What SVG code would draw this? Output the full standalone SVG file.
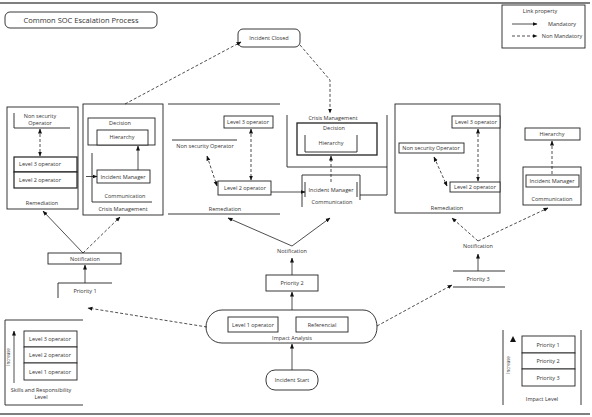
<svg xmlns="http://www.w3.org/2000/svg" width="592" height="417" viewBox="0 0 592 417">
<defs>
<marker id="ah" viewBox="0 0 10 10" refX="9" refY="5" markerWidth="5" markerHeight="5" orient="auto-start-reverse" markerUnits="userSpaceOnUse">
<path d="M0,1 L10,5 L0,9 z" fill="#111"/>
</marker>
</defs>
<style>
text{font-family:"Open Sans","Liberation Sans",sans-serif;font-size:5.5px;fill:#333;text-anchor:middle}
.b{fill:#fff;stroke:#222;stroke-width:0.9}
.l{fill:none;stroke:#222;stroke-width:0.9}
.s{fill:none;stroke:#222;stroke-width:0.8;marker-end:url(#ah)}
.d{fill:none;stroke:#222;stroke-width:0.8;stroke-dasharray:3,2;marker-end:url(#ah)}
.dd{fill:none;stroke:#222;stroke-width:0.8;stroke-dasharray:3,2;marker-end:url(#ah);marker-start:url(#ah)}
.fr{fill:none;stroke:#555;stroke-width:1.4}
.rot{font-size:4.5px;fill:#444}
</style>
<rect width="592" height="417" fill="#fff"/>
<line class="fr" x1="0" y1="3" x2="590" y2="3"/>
<line class="fr" x1="0" y1="414" x2="590" y2="414"/>

<g id="title">
<rect class="b" x="5" y="12" width="152" height="16" rx="5"/>
<text x="81" y="22.5" style="font-size:7.5px">Common SOC Escalation Process</text>
</g>

<g id="legend-link">
<rect class="b" x="502" y="5" width="83" height="43"/>
<text x="540" y="13">Link property</text>
<line class="s" x1="512" y1="24" x2="537" y2="24"/>
<text x="562" y="26">Mandatory</text>
<line class="d" x1="512" y1="36" x2="537" y2="36"/>
<text x="562" y="38">Non Mandatory</text>
</g>

<g id="incident-closed">
<rect class="b" x="238" y="29" width="62" height="18" rx="5"/>
<text x="269" y="40">Incident Closed</text>
</g>

<g id="remediation-1">
<rect class="b" x="7" y="107" width="71" height="102"/>
<path class="l" d="M14,113 V128 H70"/>
<text x="40" y="118">Non security</text>
<text x="40" y="125">Operator</text>
<rect class="b" x="14" y="157" width="63" height="15" style="stroke-width:1.2"/>
<text x="40" y="166">Level 3 operator</text>
<rect class="b" x="14" y="172" width="63" height="16" style="stroke-width:1.2"/>
<text x="40" y="182">Level 2 operator</text>
<text x="42" y="205">Remediation</text>
</g>

<g id="crisis-1">
<rect class="b" x="83" y="104" width="80" height="111"/>
<rect class="b" x="88" y="118" width="67" height="27"/>
<text x="120" y="125">Decision</text>
<rect class="b" x="97" y="130" width="51" height="15"/>
<text x="122" y="139">Hierarchy</text>
<path class="l" d="M92,153 V202 H152"/>
<rect class="b" x="97" y="170" width="53" height="13"/>
<text x="123" y="178.5">Incident Manager</text>
<text x="125" y="198">Communication</text>
<text x="123" y="211">Crisis Management</text>
</g>

<g id="remediation-2">
<line class="l" x1="168" y1="104" x2="280" y2="104"/>
<rect class="b" x="224" y="116" width="49" height="12"/>
<text x="248" y="123.5">Level 3 operator</text>
<line class="l" x1="172" y1="140" x2="237" y2="140"/>
<text x="205" y="148">Non security Operator</text>
<rect class="b" x="218" y="181" width="53" height="14"/>
<text x="245" y="190">Level 2 operator</text>
<line class="l" x1="168" y1="214" x2="280" y2="214"/>
<text x="225" y="211">Remediation</text>
</g>

<g id="crisis-2">
<path class="l" d="M287,115 V167 H387 V115"/>
<text x="333" y="120">Crisis Management</text>
<rect class="b" x="297" y="123" width="80" height="32" style="stroke-width:1.3"/>
<text x="334" y="130">Decision</text>
<path class="l" d="M305,135 V152 H357 V135"/>
<text x="331" y="145">Hierarchy</text>
</g>

<g id="communication-2">
<path class="l" d="M302,207 V175 H360 V200"/>
<path class="l" d="M305,182 V197 M357,182 V197"/>
<text x="331" y="191.5">Incident Manager</text>
<text x="332" y="204">Communication</text>
</g>

<g id="remediation-3">
<rect class="b" x="395" y="104" width="105" height="109"/>
<rect class="b" x="452" y="116" width="48" height="12"/>
<text x="476" y="123.5">Level 3 operator</text>
<rect class="b" x="399" y="143" width="65" height="10"/>
<text x="431" y="150">Non security Operator</text>
<rect class="b" x="450" y="182" width="50" height="10"/>
<text x="475" y="189">Level 2 operator</text>
<text x="447" y="210">Remediation</text>
</g>

<g id="crisis-3">
<rect class="b" x="525" y="128" width="55" height="12"/>
<text x="552" y="136">Hierarchy</text>
<rect class="b" x="523" y="167" width="58" height="38"/>
<rect class="b" x="526" y="175" width="53" height="12"/>
<text x="552" y="183">Incident Manager</text>
<text x="552" y="201">Communication</text>
</g>

<g id="notification-1">
<rect class="b" x="48" y="253" width="73" height="11"/>
<text x="85" y="260.5">Notification</text>
</g>
<g id="priority-1">
<path class="l" d="M58,298 V283 H112"/>
<text x="85" y="293">Priority 1</text>
</g>

<g id="notification-2"><text x="292" y="253">Notification</text></g>
<g id="priority-2">
<rect class="b" x="266" y="275" width="52" height="16"/>
<text x="292" y="285">Priority 2</text>
</g>

<g id="notification-3"><text x="478" y="248">Notification</text></g>
<g id="priority-3">
<path class="l" d="M453,271 H505 M453,287 H505"/>
<text x="478" y="281">Priority 3</text>
</g>

<g id="impact-analysis">
<path class="l" d="M222,310 H363 C372,310 377,318 377,327 C377,336 372,343 363,343 H222 C213,343 206,336 206,327 C206,318 213,310 222,310 Z"/>
<rect class="b" x="228" y="317" width="50" height="15"/>
<text x="253" y="326.5">Level 1 operator</text>
<rect class="b" x="296" y="317" width="52" height="15"/>
<text x="322" y="326.5">Referencial</text>
<text x="292" y="339.5">Impact Analysis</text>
</g>

<g id="incident-start">
<rect class="b" x="266" y="370" width="52" height="20" rx="9"/>
<text x="292" y="382">Incident Start</text>
</g>

<g id="legend-skills">
<path class="l" d="M83,320 H5 V405 H83"/>
<rect class="b" x="24" y="331" width="53" height="16"/>
<text x="50" y="341">Level 3 operator</text>
<rect class="b" x="24" y="347" width="53" height="16"/>
<text x="50" y="357">Level 2 operator</text>
<rect class="b" x="24" y="363" width="53" height="17"/>
<text x="50" y="373.5">Level 1 operator</text>
<line class="s" x1="14" y1="383" x2="14" y2="331"/>
<text class="rot" x="0" y="0" transform="translate(9.5,357) rotate(-90)">Increase</text>
<text x="41" y="392">Skills and Responsibility</text>
<text x="41" y="399">Level</text>
</g>

<g id="legend-impact">
<path class="l" d="M503,330 V405 M581,330 V405"/>
<rect class="b" x="522" y="336" width="53" height="17"/>
<text x="548" y="346.5">Priority 1</text>
<rect class="b" x="522" y="353" width="53" height="16"/>
<text x="548" y="363">Priority 2</text>
<rect class="b" x="522" y="369" width="53" height="17"/>
<text x="548" y="379.5">Priority 3</text>
<path d="M510,342 L513,336 L516,342 Z" fill="#111"/>
<text class="rot" x="0" y="0" transform="translate(509.5,365) rotate(-90)">Increase</text>
<text x="542" y="401">Impact Level</text>
</g>

<g id="connectors">
<line class="d" x1="125" y1="104" x2="241" y2="42"/>
<path class="d" d="M300,45 L330,80 V113"/>
<line class="dd" x1="40" y1="129" x2="40" y2="156"/>
<line class="s" x1="86" y1="176.5" x2="97" y2="176.5"/>
<line class="s" x1="138" y1="170" x2="138" y2="146"/>
<line class="dd" x1="251" y1="129" x2="251" y2="180"/>
<line class="dd" x1="207" y1="156" x2="217" y2="186"/>
<line class="s" x1="271" y1="192" x2="305" y2="192"/>
<line class="d" x1="331" y1="182" x2="331" y2="156"/>
<path class="l" d="M360,195 H387 V167"/>
<line class="dd" x1="478" y1="129" x2="478" y2="181"/>
<line class="dd" x1="434" y1="157" x2="447" y2="186"/>
<line class="d" x1="552" y1="174" x2="552" y2="141"/>
<line class="s" x1="83" y1="253" x2="43" y2="211"/>
<line class="d" x1="83" y1="253" x2="120" y2="217"/>
<line class="s" x1="85" y1="283" x2="85" y2="265"/>
<line class="d" x1="207" y1="327" x2="88" y2="308"/>
<line class="s" x1="292" y1="310" x2="292" y2="292"/>
<line class="s" x1="292" y1="275" x2="292" y2="258"/>
<line class="s" x1="292" y1="246" x2="228" y2="218"/>
<line class="s" x1="292" y1="246" x2="330" y2="218"/>
<line class="s" x1="292" y1="370" x2="292" y2="344"/>
<line class="d" x1="377" y1="326" x2="452" y2="285"/>
<line class="s" x1="478" y1="271" x2="478" y2="254"/>
<line class="d" x1="478" y1="241" x2="452" y2="218"/>
<line class="d" x1="478" y1="241" x2="548" y2="208"/>
</g>
</svg>
